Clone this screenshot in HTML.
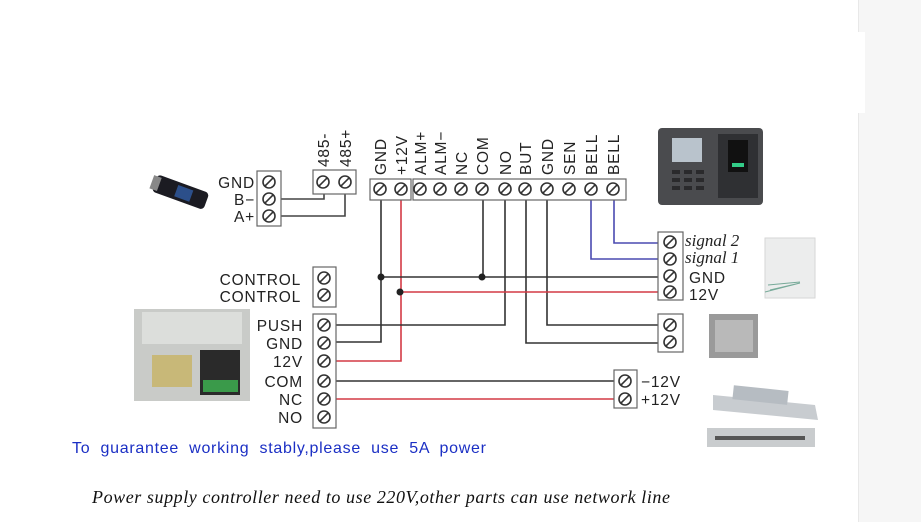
<!DOCTYPE html>
<html><head><meta charset="utf-8"><style>
html,body{margin:0;padding:0;background:#fff;width:921px;height:522px;overflow:hidden}
svg{display:block}
.l{font-family:"Liberation Sans",sans-serif;font-size:15.5px;fill:#222;letter-spacing:0.8px}
.s{font-family:"Liberation Serif",serif;font-style:italic;font-size:17px;fill:#222}
</style></head><body>
<svg width="921" height="522" viewBox="0 0 921 522" xmlns="http://www.w3.org/2000/svg">
<defs>
<g id="sc"><circle r="6" fill="#fff" stroke="#333" stroke-width="1.6"/><line x1="-4.2" y1="4.2" x2="4.2" y2="-4.2" stroke="#333" stroke-width="1.6"/></g>
</defs>
<rect x="858" y="0" width="63" height="522" fill="#f6f6f6"/>
<line x1="858.5" y1="0" x2="858.5" y2="522" stroke="#e8e8e8"/>
<rect x="858" y="32" width="7" height="81" fill="#fff"/>

<g fill="none" stroke-width="1.6">
<path d="M281 199H324V194M281 216H345V194" stroke="#444"/>
<path d="M381 200V342H336" stroke="#333"/>
<path d="M401 200V361H336" stroke="#d43a45"/>
<path d="M483 200V277" stroke="#333"/>
<path d="M505 200V325H336" stroke="#333"/>
<path d="M526 200V343H659" stroke="#333"/>
<path d="M547 200V325H659" stroke="#333"/>
<path d="M591 200V259H659" stroke="#4a4ab0"/>
<path d="M614 200V243H659" stroke="#4a4ab0"/>
<path d="M381 277H659" stroke="#333"/>
<path d="M401 292H659" stroke="#d43a45"/>
<path d="M336 381H614" stroke="#333"/>
<path d="M336 399H614" stroke="#d43a45"/>
</g>
<circle cx="381" cy="277" r="3.5" fill="#222"/>
<circle cx="482" cy="277" r="3.5" fill="#222"/>
<circle cx="400" cy="292" r="3.5" fill="#222"/>

<g fill="#fff" stroke="#666" stroke-width="1.2">
<rect x="257" y="171" width="24" height="55"/>
<rect x="313" y="170" width="43" height="24"/>
<rect x="370" y="179" width="41" height="21"/>
<rect x="413" y="179" width="213" height="21"/>
<rect x="658" y="232" width="25" height="68"/>
<rect x="658" y="314" width="25" height="38"/>
<rect x="614" y="370" width="23" height="38"/>
<rect x="313" y="267" width="23" height="40"/>
<rect x="313" y="314" width="23" height="114"/>
</g>
<g>
<use href="#sc" x="269" y="182"/><use href="#sc" x="269" y="199"/><use href="#sc" x="269" y="216"/>
<use href="#sc" x="323" y="182"/><use href="#sc" x="345" y="182"/>
<use href="#sc" x="380" y="189"/><use href="#sc" x="401" y="189"/>
<use href="#sc" x="420" y="189"/><use href="#sc" x="440" y="189"/><use href="#sc" x="461" y="189"/><use href="#sc" x="482" y="189"/><use href="#sc" x="505" y="189"/><use href="#sc" x="525" y="189"/><use href="#sc" x="547" y="189"/><use href="#sc" x="569" y="189"/><use href="#sc" x="591" y="189"/><use href="#sc" x="613" y="189"/>
<use href="#sc" x="670" y="242"/><use href="#sc" x="670" y="259"/><use href="#sc" x="670" y="276"/><use href="#sc" x="670" y="292"/>
<use href="#sc" x="670" y="325"/><use href="#sc" x="670" y="342"/>
<use href="#sc" x="625" y="381"/><use href="#sc" x="625" y="399"/>
<use href="#sc" x="324" y="278"/><use href="#sc" x="324" y="295"/>
<use href="#sc" x="324" y="325"/><use href="#sc" x="324" y="343"/><use href="#sc" x="324" y="361"/><use href="#sc" x="324" y="381"/><use href="#sc" x="324" y="399"/><use href="#sc" x="324" y="417"/>
</g>

<g class="l" text-anchor="end">
<text x="255" y="188">GND</text><text x="255" y="205">B−</text><text x="255" y="222">A+</text>
<text x="301" y="285">CONTROL</text><text x="301" y="302">CONTROL</text>
<text x="303" y="331">PUSH</text><text x="303" y="349">GND</text><text x="303" y="367">12V</text>
<text x="303" y="387">COM</text><text x="303" y="405">NC</text><text x="303" y="423">NO</text>
</g>
<g class="l">
<text transform="translate(329,167) rotate(-90)">485-</text>
<text transform="translate(351,167) rotate(-90)">485+</text>
<text transform="translate(386,175) rotate(-90)">GND</text>
<text transform="translate(407,175) rotate(-90)">+12V</text>
<text transform="translate(426,175) rotate(-90)">ALM+</text>
<text transform="translate(446,175) rotate(-90)">ALM−</text>
<text transform="translate(467,175) rotate(-90)">NC</text>
<text transform="translate(488,175) rotate(-90)">COM</text>
<text transform="translate(511,175) rotate(-90)">NO</text>
<text transform="translate(531,175) rotate(-90)">BUT</text>
<text transform="translate(553,175) rotate(-90)">GND</text>
<text transform="translate(575,175) rotate(-90)">SEN</text>
<text transform="translate(597,175) rotate(-90)">BELL</text>
<text transform="translate(619,175) rotate(-90)">BELL</text>
<text x="689" y="283">GND</text><text x="689" y="300">12V</text>
<text x="641" y="387">−12V</text><text x="641" y="405">+12V</text>
</g>
<text class="s" x="685" y="246">signal 2</text>
<text class="s" x="685" y="263">signal 1</text>

<text x="72" y="453" font-family="Liberation Sans,sans-serif" font-size="16" fill="#1b2fc4" textLength="414" word-spacing="5">To guarantee working stably,please use 5A power</text>
<text x="92" y="503" font-family="Liberation Serif,serif" font-style="italic" font-size="18" fill="#111" textLength="578">Power supply controller need to use 220V,other parts can use network line</text>

<g transform="rotate(20 180 192)"><rect x="153" y="183" width="55" height="18" rx="4" fill="#1b1b22"/><rect x="176" y="186" width="16" height="12" fill="#2c4f8a"/><rect x="150" y="185" width="8" height="14" fill="#888"/></g>

<rect x="134" y="309" width="116" height="92" fill="#c9cbc8"/>
<rect x="142" y="312" width="100" height="32" fill="#dcdedb"/>
<rect x="152" y="355" width="40" height="32" fill="#c8b878"/>
<rect x="200" y="350" width="40" height="45" fill="#2a2a2a"/>
<rect x="203" y="380" width="35" height="12" fill="#3a9a4a"/>

<rect x="658" y="128" width="105" height="77" rx="4" fill="#4a4b4e"/>
<rect x="672" y="138" width="30" height="24" fill="#b9c3cc"/>
<rect x="718" y="134" width="40" height="64" fill="#2f3033"/>
<rect x="728" y="140" width="20" height="32" fill="#111"/>
<rect x="732" y="163" width="12" height="4" fill="#3c8"/>
<g fill="#2a2a2c"><rect x="672" y="170" width="8" height="4"/><rect x="684" y="170" width="8" height="4"/><rect x="696" y="170" width="8" height="4"/><rect x="672" y="178" width="8" height="4"/><rect x="684" y="178" width="8" height="4"/><rect x="696" y="178" width="8" height="4"/><rect x="672" y="186" width="8" height="4"/><rect x="684" y="186" width="8" height="4"/><rect x="696" y="186" width="8" height="4"/></g>

<rect x="765" y="238" width="50" height="60" fill="#eceded" stroke="#d6d6d6"/>
<path d="M765 292L800 283M768 285L800 282M770 290L800 283" stroke="#7a9" stroke-width="1" fill="none"/>

<rect x="709" y="314" width="49" height="44" fill="#9a9a9a"/>
<rect x="715" y="320" width="38" height="32" fill="#b9b9b9"/>

<polygon points="713,395 815,405 818,420 713,410" fill="#c8ccd0"/>
<rect x="733" y="388" width="55" height="14" fill="#b6bcc2" transform="rotate(6 760 395)"/>
<rect x="707" y="428" width="108" height="19" fill="#c9ccce"/>
<rect x="715" y="436" width="90" height="4" fill="#555"/>
</svg>
</body></html>
